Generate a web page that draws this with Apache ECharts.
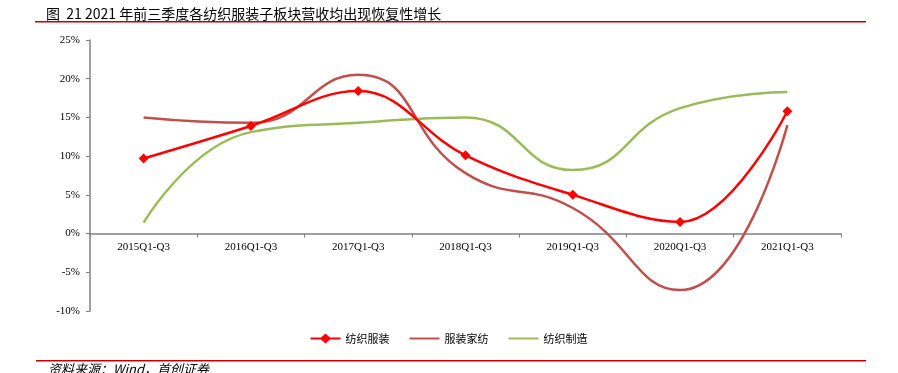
<!DOCTYPE html>
<html><head><meta charset="utf-8">
<script src="https://cdn.jsdelivr.net/npm/echarts@6/dist/echarts.min.js"></script>
<style>html,body{margin:0;padding:0;background:#fff}#c{width:898px;height:373px}</style>
</head><body><div id="c"></div>
<script>
const categories = ['2015Q1-Q3','2016Q1-Q3','2017Q1-Q3','2018Q1-Q3','2019Q1-Q3','2020Q1-Q3','2021Q1-Q3'];
const textileApparel = [9.7, 13.9, 18.4, 10.1, 5.0, 1.5, 15.8];
const apparelHome = [15.0, 14.3, 20.5, 7.8, 3.3, -7.3, 14.0];
const textileMfg = [1.4, 13.1, 14.3, 15.0, 8.2, 16.2, 18.3];
const yTicks = [-10, -5, 0, 5, 10, 15, 20, 25];

const chart = echarts.init(document.getElementById('c'));
const serif = '"Liberation Serif","Times New Roman",serif';
const cjk = '"Noto Sans CJK SC",sans-serif';
const gridTop = 40, gridBottom = 62, plotH = 373 - gridTop - gridBottom;
const yMin = yTicks[0], yMax = yTicks[yTicks.length - 1];
const zeroOffset = -plotH * (0 - yMin) / (yMax - yMin);
const lineIcon = 'path://M0,4 L30,4 L30,6 L0,6 Z';
const diamondIcon = 'path://M0,4 L10.5,4 L15,0 L19.5,4 L30,4 L30,6 L19.5,6 L15,10 L10.5,6 L0,6 Z';
chart.setOption({
  animation: false,
  title: {
    text: '图  21 2021 年前三季度各纺织服装子板块营收均出现恢复性增长',
    left: 41, top: 2,
    textStyle: {fontFamily: cjk, fontSize: 14, fontWeight: 'normal', color: '#000'}
  },
  graphic: [
    {type: 'rect', shape: {x: 35, y: 21, width: 831, height: 1.5}, style: {fill: '#C00000'}},
    {type: 'rect', shape: {x: 36, y: 360, width: 830, height: 1.5}, style: {fill: '#C00000'}},
    {type: 'text', left: 48, top: 363, style: {text: '资料来源：Wind，首创证券', font: 'italic 13px "Noto Sans CJK SC"', fill: '#000'}}
  ],
  grid: {left: 90, right: 57, top: gridTop, bottom: gridBottom},
  legend: {
    bottom: 24, left: 'center', itemGap: 20, itemWidth: 30, itemHeight: 10,
    textStyle: {fontFamily: cjk, fontSize: 11, color: '#000'},
    data: [
      {name: '纺织服装', icon: diamondIcon},
      {name: '服装家纺', icon: lineIcon},
      {name: '纺织制造', icon: lineIcon}
    ]
  },
  xAxis: {
    type: 'category', data: categories, boundaryGap: true, position: 'bottom', offset: zeroOffset,
    axisLine: {onZero: false, lineStyle: {color: '#808080', width: 1.5}},
    axisTick: {show: true, inside: false, length: 4, lineStyle: {color: '#808080'}},
    axisLabel: {fontFamily: serif, fontSize: 11, color: '#000', margin: 8}
  },
  yAxis: {
    type: 'value', min: yMin, max: yMax, interval: 5,
    axisLine: {show: true, lineStyle: {color: '#808080', width: 1.5}},
    axisTick: {show: true, length: 4, lineStyle: {color: '#808080'}},
    splitLine: {show: false},
    axisLabel: {fontFamily: serif, fontSize: 11, color: '#000', margin: 10, formatter: v => v + '%'}
  },
  series: [
    {name: '纺织服装', type: 'line', data: textileApparel, smooth: 0.4, symbol: 'diamond', symbolSize: 10,
     itemStyle: {color: '#FF0000'}, lineStyle: {color: '#FF0000', width: 2.5}, z: 5},
    {name: '服装家纺', type: 'line', data: apparelHome, smooth: 0.5, symbol: 'none',
     itemStyle: {color: '#C0504D'}, lineStyle: {color: '#C0504D', width: 2.5}},
    {name: '纺织制造', type: 'line', data: textileMfg, smooth: 0.5, symbol: 'none',
     itemStyle: {color: '#9BBB59'}, lineStyle: {color: '#9BBB59', width: 2.5}}
  ]
});
</script></body></html>
